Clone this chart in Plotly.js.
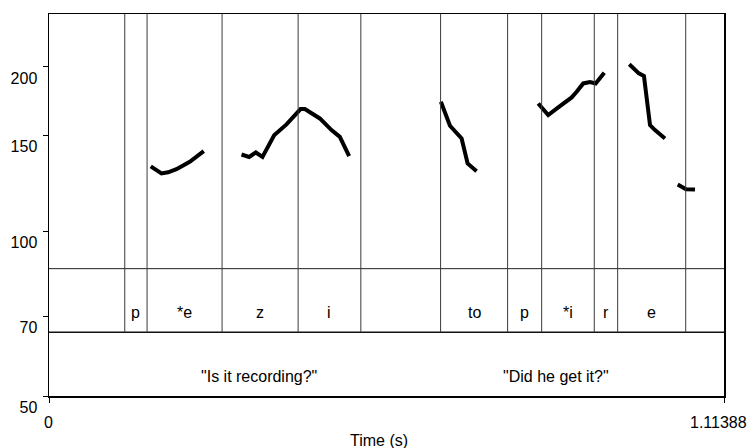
<!DOCTYPE html>
<html>
<head>
<meta charset="utf-8">
<script src="https://cdn.plot.ly/plotly-3.0.1.min.js"></script>
<style>html,body{margin:0;padding:0;background:#fff;}#chart{width:748px;height:448px;}</style>
</head>
<body>
<div id="chart"></div>
<script>
// Pitch contour (time in s, F0 in Hz); null separates voiced stretches
const pitchTime = [
  0.1679, 0.1856, 0.1965, 0.2103, 0.2323, 0.2554, null,
  0.3177, 0.3302, 0.3413, 0.3523, 0.3715, 0.3919, 0.4151, 0.4222, 0.4469, 0.4662, 0.4799, 0.4953, null,
  0.6467, 0.6617, 0.6809, 0.6908, 0.7056, null,
  0.8073, 0.8238, 0.8404, 0.8625, 0.8707, 0.8816, 0.8927, 0.9021, 0.9163, null,
  0.9576, 0.9733, 0.9818, 0.9918, 1.0000, 1.0165, null,
  1.0375, 1.0512, 1.0660
];
const pitchHz = [
  131.6, 127.7, 128.3, 130.0, 134.1, 140.3, null,
  138.3, 136.9, 139.5, 136.9, 150.0, 157.0, 167.5, 167.5, 161.0, 153.3, 149.0, 137.4, null,
  172.7, 156.1, 148.0, 133.2, 128.9, null,
  171.5, 163.3, 168.7, 175.9, 180.1, 186.6, 187.7, 186.6, 195.2, null,
  202.3, 194.7, 192.5, 156.5, 153.3, 148.0, null,
  121.9, 119.5, 119.3
];
// Tier 1 (phones): boundaries and labels of the intervals between them
const phoneBoundaries = [0.1250, 0.1618, 0.2856, 0.4111, 0.5146, 0.6462, 0.7568, 0.8130, 0.8998, 0.9384, 1.0507];
const phoneLabels = ["p", "*e", "z", "i", "", "to", "p", "*i", "r", "e"];
// Tier 2 (sentences)
const sentenceLabels = ['"Is it recording?"', '"Did he get it?"'];
const sentenceTimes = [0.3462, 0.8366];
// Axis
const totalDuration = 1.11388;
const yTickVals = [50, 70, 100, 150, 200];
const yRange = [50, 250];
const xAxisTitle = "Time (s)";

const FONT = "Liberation Sans, Arial, sans-serif";
const FS = 16;

const shapes = [];
const annotations = [];
// tier horizontal lines
shapes.push({type: "line", xref: "paper", yref: "paper", x0: 0, x1: 1, y0: 1/3, y1: 1/3, line: {color: "#222", width: 1}});
shapes.push({type: "line", xref: "paper", yref: "paper", x0: 0, x1: 1, y0: 1/6, y1: 1/6, line: {color: "#111", width: 1.5}});
// boundaries
phoneBoundaries.forEach(b => {
  shapes.push({type: "line", xref: "x", yref: "paper", x0: b, x1: b, y0: 1/6, y1: 1, line: {color: "#3a3a3a", width: 1}});
});
// phone labels
for (let i = 0; i < phoneLabels.length; i++) {
  if (!phoneLabels[i]) continue;
  annotations.push({
    x: (phoneBoundaries[i] + phoneBoundaries[i + 1]) / 2, xref: "x",
    y: 0.219, yref: "paper", yanchor: "middle", xanchor: "center",
    text: phoneLabels[i], showarrow: false, font: {family: FONT, size: FS, color: "#000"}
  });
}
sentenceLabels.forEach((s, i) => {
  annotations.push({
    x: sentenceTimes[i], xref: "x", y: 0.051, yref: "paper", yanchor: "middle", xanchor: "center",
    text: s, showarrow: false, font: {family: FONT, size: FS, color: "#000"}
  });
});
// x axis labels
annotations.push({x: 0, xref: "x", y: 0, yref: "paper", yanchor: "middle", xanchor: "center", yshift: -26, xshift: -1,
  text: "0", showarrow: false, font: {family: FONT, size: FS, color: "#000"}});
annotations.push({x: totalDuration, xref: "x", y: 0, yref: "paper", yanchor: "middle", xanchor: "center", yshift: -26, xshift: -6,
  text: String(totalDuration), showarrow: false, font: {family: FONT, size: FS, color: "#000"}});
annotations.push({x: 0.4895, xref: "paper", y: 0, yref: "paper", yanchor: "middle", xanchor: "center", yshift: -44,
  text: xAxisTitle, showarrow: false, font: {family: FONT, size: FS, color: "#000"}});

const trace = {
  x: pitchTime, y: pitchHz, type: "scatter", mode: "lines",
  connectgaps: false, line: {color: "#000", width: 4}, hoverinfo: "skip"
};

const layout = {
  width: 748, height: 448,
  margin: {l: 49, r: 24, t: 14, b: 52, pad: 0},
  paper_bgcolor: "#fff", plot_bgcolor: "#fff",
  showlegend: false,
  font: {family: FONT, size: FS, color: "#000"},
  xaxis: {
    range: [0, totalDuration], showgrid: false, zeroline: false,
    showline: true, mirror: true, linecolor: "#000", linewidth: 1.5,
    ticks: "outside", ticklen: 5, tickcolor: "#000", tickwidth: 1,
    tickvals: [0, totalDuration], showticklabels: false, fixedrange: true
  },
  yaxis: {
    type: "log", range: [Math.log10(yRange[0]), Math.log10(yRange[1])],
    showgrid: false, zeroline: false,
    showline: true, mirror: true, linecolor: "#000", linewidth: 1.5,
    ticks: "outside", ticklen: 5, tickcolor: "#000", tickwidth: 1,
    tickvals: yTickVals, ticktext: yTickVals.map(String),
    ticklabelshift: 11, ticklabelstandoff: 2,
    tickfont: {family: FONT, size: FS, color: "#000"}, fixedrange: true
  },
  shapes: shapes,
  annotations: annotations
};

Plotly.newPlot("chart", [trace], layout, {staticPlot: true, displayModeBar: false});
</script>
</body>
</html>
